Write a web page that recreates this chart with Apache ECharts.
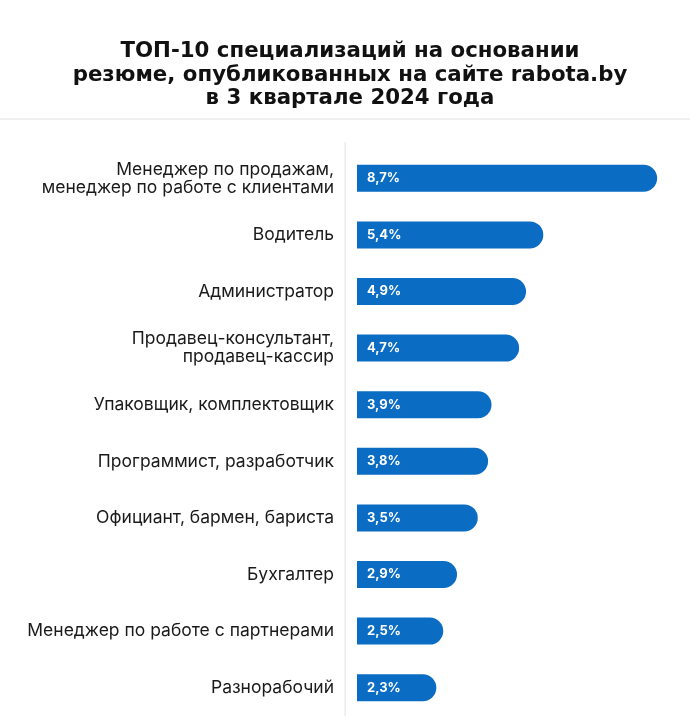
<!DOCTYPE html>
<html><head><meta charset="utf-8">
<script src="https://cdn.jsdelivr.net/npm/echarts@6/dist/echarts.min.js"></script>
<style>html,body{margin:0;padding:0;background:#fff}#c{width:690px;height:716px}</style>
</head><body><div id="c"></div>
<script>
const categories = [
  'Менеджер по продажам,\nменеджер по работе с клиентами',
  'Водитель',
  'Администратор',
  'Продавец-консультант,\nпродавец-кассир',
  'Упаковщик, комплектовщик',
  'Программист, разработчик',
  'Официант, бармен, бариста',
  'Бухгалтер',
  'Менеджер по работе с партнерами',
  'Разнорабочий'
];
const values = [8.7, 5.4, 4.9, 4.7, 3.9, 3.8, 3.5, 2.9, 2.5, 2.3];
const titleText = 'ТОП-10 специализаций на основании\nрезюме, опубликованных на сайте rabota.by\nв 3 квартале 2024 года';

const chart = echarts.init(document.getElementById('c'), null, {renderer: 'canvas'});
chart.setOption({
  backgroundColor: '#ffffff',
  animation: false,
  title: {
    text: titleText,
    left: 345,
    top: 35,
    textAlign: 'center',
    textStyle: {fontFamily: 'DejaVu Sans', fontWeight: 'bold', fontSize: 21.3, lineHeight: 23.5, color: '#111'}
  },
  graphic: [
    {type: 'rect', shape: {x: 0, y: 118, width: 690, height: 2}, style: {fill: '#efefef'}, silent: true},
    {type: 'rect', shape: {x: 344.5, y: 142, width: 1.5, height: 574}, style: {fill: '#ececec'}, silent: true}
  ],
  grid: {left: 357, right: 22.5, top: 150, bottom: 0, containLabel: false},
  xAxis: {
    type: 'value', min: 0, max: 9, show: false
  },
  yAxis: {
    type: 'category', data: categories, inverse: true,
    axisLine: {show: false}, axisTick: {show: false},
    axisLabel: {margin: 23, fontFamily: 'Inter', fontSize: 17.5, lineHeight: 18, color: '#1a1a1a', align: 'right'}
  },
  series: [{
    type: 'bar', data: values, barWidth: 27,
    itemStyle: {color: '#0a6cc3', borderRadius: [0, 13.5, 13.5, 0]},
    label: {
      show: true, position: 'insideLeft', distance: 10,
      formatter: p => String(p.value).replace('.', ',') + '%',
      color: '#fff', fontFamily: 'Inter', fontWeight: 'bold', fontSize: 13
    }
  }]
});
</script></body></html>
